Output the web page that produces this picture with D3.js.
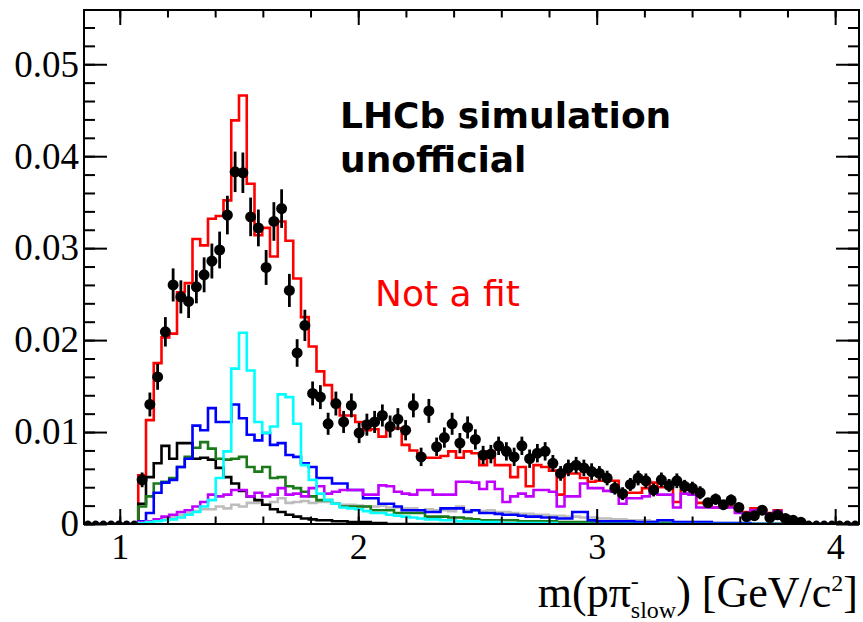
<!DOCTYPE html>
<html>
<head>
<meta charset="utf-8">
<script src="https://cdn.jsdelivr.net/npm/d3@7"></script>
<style>
  body { margin: 0; background: #fff; }
  svg { display: block; }
</style>
</head>
<body>
<script>
// histogram binning: 100 bins on [0.85, 4.1]
const xLow = 0.85, xHigh = 4.1, nBins = 100;

// pseudo-data points and their errors (one per bin)
const dataPoints = [0,0,0,0,0,0,0,
  0.0048,0.0130,0.0160,0.0209,0.0260,0.0247,0.0242,0.0258,0.0271,0.0286,
  0.0298,0.0336,0.0383,0.0382,0.0334,0.0322,0.0279,0.0329,0.0343,0.0254,
  0.0186,0.0216,0.0142,0.0138,0.0109,0.0131,0.0111,0.0129,0.0099,0.0108,
  0.0111,0.0118,0.0106,0.0114,0.0102,0.0129,0.0073,0.0123,0.0084,0.0094,
  0.0109,0.0088,0.0105,0.0092,0.0075,0.0076,0.0085,0.0079,0.0073,0.0085,
  0.0071,0.0077,0.0079,0.0066,0.0055,0.0061,0.0064,0.0061,0.0057,0.0055,
  0.0050,0.0039,0.0033,0.0043,0.0050,0.0047,0.0037,0.0048,0.0042,0.0047,
  0.0041,0.0039,0.0034,0.0023,0.0027,0.0021,0.0026,0.0018,0.0008,0.0009,
  0.0015,0.0007,0.0010,0.0006,0.0004,0.0002,
  0,0,0,0,0,0,0];
const dataErrors = [0,0,0,0,0,0,0,
  0.0008,0.0013,0.0014,0.0016,0.0018,0.0018,0.0018,0.0018,0.0019,0.0019,
  0.0020,0.0021,0.0022,0.0022,0.0021,0.0020,0.0019,0.0021,0.0021,0.0018,
  0.0015,0.0017,0.0013,0.0013,0.0012,0.0013,0.0012,0.0013,0.0011,0.0012,
  0.0012,0.0012,0.0012,0.0012,0.0011,0.0013,0.0010,0.0013,0.0010,0.0011,
  0.0012,0.0011,0.0012,0.0011,0.0010,0.0010,0.0010,0.0010,0.0010,0.0010,
  0.0010,0.0010,0.0010,0.0009,0.0008,0.0009,0.0009,0.0009,0.0009,0.0008,
  0.0008,0.0007,0.0007,0.0007,0.0008,0.0008,0.0007,0.0008,0.0007,0.0008,
  0.0007,0.0007,0.0007,0.0005,0.0006,0.0005,0.0006,0.0005,0.0003,0.0003,
  0.0004,0.0003,0.0004,0.0003,0.0002,0.0002,
  0,0,0,0,0,0,0];

// simulated components
const totalMC = [0,0,0,0,0,0,0,
  0.0053,0.0113,0.0175,0.0203,0.0207,0.0252,0.0262,0.0310,0.0303,0.0332,
  0.0335,0.0352,0.0439,0.0466,0.0370,0.0314,0.0322,0.0291,0.0329,0.0308,
  0.0267,0.0225,0.0193,0.0166,0.0151,0.0131,0.0118,0.0118,0.0111,0.0102,
  0.0103,0.0095,0.0104,0.0104,0.0086,0.0080,0.0073,0.0072,0.0072,0.0074,
  0.0079,0.0072,0.0079,0.0077,0.0064,0.0079,0.0064,0.0064,0.0051,0.0062,
  0.0041,0.0064,0.0062,0.0058,0.0032,0.0055,0.0055,0.0050,0.0046,0.0047,
  0.0048,0.0047,0.0031,0.0034,0.0034,0.0039,0.0045,0.0040,0.0040,0.0024,
  0.0037,0.0037,0.0023,0.0022,0.0018,0.0018,0.0019,0.0013,0.0013,0.0017,
  0.0016,0.0012,0.0015,0.0008,0.0005,0.0003,
  0,0,0,0,0,0,0];
const cyanMC = [0,0,0,0,0,0,0,
  0.0001,0.0002,0.0003,0.0004,0.0005,0.0007,0.0010,0.0013,0.0019,0.0026,
  0.0050,0.0079,0.0169,0.0208,0.0167,0.0111,0.0099,0.0106,0.0141,0.0138,
  0.0109,0.0064,0.0048,0.0033,0.0026,0.0022,0.0018,0.0017,0.0016,0.0014,
  0.0012,0.0012,0.0010,0.0009,0.0008,0.0007,0.0006,0.0005,0.0005,0.0004,
  0.0004,0.0003,0.0003,0.0003,0.0002,0.0002,0.0002,0.0001,0.0001,0.0001,
  0.0001,0.0001,0.0001,0.0001,0,0,0,0,0,0,
  0,0,0,0,0,0,0,0,0,0,
  0,0,0,0,0,0,0,0,0,0,
  0,0,0,0,0,0,
  0,0,0,0,0,0,0];
const blueMC = [0,0,0,0,0,0,0,
  0.0003,0.0012,0.0034,0.0045,0.0048,0.0062,0.0071,0.0107,0.0102,0.0126,
  0.0111,0.0111,0.0130,0.0115,0.0097,0.0091,0.0099,0.0086,0.0088,0.0075,
  0.0073,0.0066,0.0062,0.0050,0.0050,0.0044,0.0044,0.0037,0.0037,0.0028,
  0.0028,0.0022,0.0022,0.0019,0.0015,0.0015,0.0015,0.0013,0.0013,0.0017,
  0.0017,0.0017,0.0013,0.0015,0.0012,0.0012,0.0011,0.0010,0.0010,0.0009,
  0.0008,0.0008,0.0007,0.0007,0.0006,0.0006,0.0013,0.0013,0.0004,0.0003,
  0.0003,0.0003,0.0003,0.0003,0.0002,0.0002,0.0002,0.0004,0.0004,0.0002,
  0.0002,0.0002,0.0002,0.0002,0.0001,0.0001,0.0001,0.0001,0.0001,0,
  0,0,0,0,0,0,
  0,0,0,0,0,0,0];
const greenMC = [0,0,0,0,0,0,0,
  0.0019,0.0030,0.0044,0.0046,0.0050,0.0062,0.0073,0.0083,0.0089,0.0082,
  0.0071,0.0070,0.0071,0.0073,0.0062,0.0057,0.0062,0.0050,0.0051,0.0041,
  0.0039,0.0035,0.0030,0.0026,0.0026,0.0022,0.0019,0.0019,0.0019,0.0019,
  0.0015,0.0015,0.0015,0.0012,0.0012,0.0012,0.0012,0.0008,0.0008,0.0008,
  0.0007,0.0007,0.0006,0.0005,0.0004,0.0004,0.0004,0.0004,0.0004,0.0003,
  0.0003,0.0003,0.0003,0.0003,0.0002,0.0002,0.0002,0.0002,0.0002,0.0002,
  0.0002,0.0002,0.0002,0.0002,0.0001,0.0001,0.0001,0.0001,0.0001,0.0001,
  0.0001,0.0001,0.0001,0.0001,0,0,0,0,0,0,
  0,0,0,0,0,0,
  0,0,0,0,0,0,0];
const blackMC = [0,0,0,0,0,0,0,
  0.0022,0.0051,0.0066,0.0085,0.0071,0.0088,0.0088,0.0071,0.0072,0.0070,
  0.0061,0.0051,0.0044,0.0036,0.0030,0.0026,0.0021,0.0016,0.0013,0.0010,
  0.0008,0.0006,0.0005,0.0004,0.0004,0.0003,0.0003,0.0002,0.0002,0.0002,
  0.0001,0.0001,0,0,0,0,0,0,0,0,
  0,0,0,0,0,0,0,0,0,0,
  0,0,0,0,0,0,0,0,0,0,
  0,0,0,0,0,0,0,0,0,0,
  0,0,0,0,0,0,0,0,0,0,
  0,0,0,0,0,0,
  0,0,0,0,0,0,0];
const magentaMC = [0,0,0,0,0,0,0,
  0.0002,0.0003,0.0005,0.0008,0.0010,0.0013,0.0015,0.0019,0.0024,0.0032,
  0.0030,0.0032,0.0037,0.0037,0.0030,0.0034,0.0030,0.0032,0.0039,0.0032,
  0.0033,0.0030,0.0039,0.0041,0.0033,0.0035,0.0037,0.0037,0.0037,0.0032,
  0.0032,0.0042,0.0041,0.0035,0.0033,0.0032,0.0037,0.0037,0.0032,0.0032,
  0.0032,0.0046,0.0046,0.0045,0.0038,0.0046,0.0038,0.0024,0.0030,0.0033,
  0.0030,0.0037,0.0037,0.0035,0.0019,0.0030,0.0030,0.0044,0.0039,0.0039,
  0.0036,0.0035,0.0022,0.0028,0.0028,0.0030,0.0039,0.0032,0.0032,0.0018,
  0.0033,0.0032,0.0018,0.0018,0.0018,0.0018,0.0018,0.0012,0.0012,0.0015,
  0.0015,0.0011,0.0014,0.0008,0.0005,0.0003,
  0,0,0,0,0,0,0];
const grayMC = [0,0,0,0,0,0,0,
  0.0001,0.0003,0.0005,0.0006,0.0008,0.0010,0.0012,0.0014,0.0016,0.0016,
  0.0019,0.0017,0.0021,0.0019,0.0023,0.0023,0.0021,0.0024,0.0028,0.0023,
  0.0024,0.0025,0.0023,0.0024,0.0024,0.0022,0.0021,0.0021,0.0020,0.0019,
  0.0019,0.0020,0.0018,0.0018,0.0017,0.0017,0.0015,0.0016,0.0015,0.0015,
  0.0014,0.0019,0.0015,0.0015,0.0014,0.0015,0.0013,0.0013,0.0012,0.0011,
  0.0011,0.0010,0.0010,0.0009,0.0009,0.0008,0.0008,0.0007,0.0007,0.0006,
  0.0006,0.0005,0.0005,0.0004,0.0004,0.0004,0.0003,0.0003,0.0003,0.0002,
  0.0002,0.0002,0.0002,0.0002,0.0001,0.0001,0.0001,0.0001,0.0001,0,
  0,0,0,0,0,0,
  0,0,0,0,0,0,0];

const yMajor = [0, 0.01, 0.02, 0.03, 0.04, 0.05];
const xMajor = [1, 2, 3, 4];

const W = 863, H = 622;
const frame = {left: 84, right: 859, top: 10, bottom: 524};

const svg = d3.select("body").append("svg").attr("width", W).attr("height", H);
svg.append("rect").attr("width", W).attr("height", H).attr("fill", "#fff");

const x = d3.scaleLinear().domain([xLow, xHigh]).range([frame.left, frame.right]);
const y = d3.scaleLinear().domain([0, 0.0559]).range([frame.bottom, frame.top]);

const binW = (xHigh - xLow) / nBins;
const edges = d3.range(nBins + 1).map(i => xLow + i * binW);
const centers = d3.range(nBins).map(i => xLow + (i + 0.5) * binW);

svg.append("clipPath").attr("id", "frameClip")
  .append("rect")
  .attr("x", frame.left).attr("y", frame.top)
  .attr("width", frame.right - frame.left).attr("height", frame.bottom - frame.top);

const plot = svg.append("g").attr("clip-path", "url(#frameClip)");

// step histograms
const step = d3.line()
  .x(d => x(d[0]))
  .y(d => y(d[1]))
  .curve(d3.curveStepAfter);

const histos = [
  {values: totalMC, color: "#ff0000"},
  {values: grayMC, color: "#bdbdbd"},
  {values: blackMC, color: "#000000"},
  {values: greenMC, color: "#1a7a1a"},
  {values: blueMC, color: "#0000ff"},
  {values: magentaMC, color: "#c000ff"},
  {values: cyanMC, color: "#00ffff"}
];

histos.forEach(h => {
  let pts = h.values.map((v, i) => [edges[i], v]);
  pts.push([xHigh, h.values[nBins - 1]]);
  plot.append("path")
    .attr("d", step(pts))
    .attr("fill", "none")
    .attr("stroke", h.color)
    .attr("stroke-width", 2.6);
});

// data points with errors
const pts = dataPoints.map((v, i) => ({x: centers[i], v: v, e: dataErrors[i]}));
plot.selectAll("line.err").data(pts.filter(d => d.e > 0))
  .join("line")
  .attr("class", "err")
  .attr("x1", d => x(d.x)).attr("x2", d => x(d.x))
  .attr("y1", d => y(d.v - d.e)).attr("y2", d => y(d.v + d.e))
  .attr("stroke", "#000").attr("stroke-width", 2.8);
plot.selectAll("circle.pt").data(pts)
  .join("circle")
  .attr("class", "pt")
  .attr("cx", d => x(d.x)).attr("cy", d => y(d.v))
  .attr("r", d => d.v > 0 ? 5.5 : 3.5)
  .attr("fill", "#000");

// axes, ticks inside the frame on all four sides
const fmt = d => d === 0 ? "0" : d3.format(".2f")(d);
const yMinor = d3.range(0, 0.0559, 0.002);
const xMinor = d3.range(1, 4.01, 0.2);

function styleAxis(g, size) {
  g.select(".domain").remove();
  g.selectAll("line").attr("stroke", "#000").attr("stroke-width", 2);
  g.selectAll("text").attr("font-family", "Liberation Serif").attr("font-size", size || 37).attr("fill", "#000");
}

svg.append("g").attr("transform", `translate(${frame.left},0)`)
  .call(d3.axisLeft(y).tickValues(yMinor).tickSize(-11).tickFormat(""))
  .call(styleAxis);
svg.append("g").attr("transform", `translate(${frame.left},0)`)
  .call(d3.axisLeft(y).tickValues(yMajor).tickSize(-23).tickPadding(5).tickFormat(fmt))
  .call(styleAxis);
svg.append("g").attr("transform", `translate(${frame.right},0)`)
  .call(d3.axisRight(y).tickValues(yMinor).tickSize(-11).tickFormat(""))
  .call(styleAxis);
svg.append("g").attr("transform", `translate(${frame.right},0)`)
  .call(d3.axisRight(y).tickValues(yMajor).tickSize(-23).tickFormat(""))
  .call(styleAxis);

svg.append("g").attr("transform", `translate(0,${frame.bottom})`)
  .call(d3.axisBottom(x).tickValues(xMinor).tickSize(-7.5).tickFormat(""))
  .call(styleAxis);
svg.append("g").attr("transform", `translate(0,${frame.bottom})`)
  .call(d3.axisBottom(x).tickValues(xMajor).tickSize(-15).tickPadding(9).tickFormat(d3.format("d")))
  .call(g => styleAxis(g, 36));
svg.append("g").attr("transform", `translate(0,${frame.top})`)
  .call(d3.axisTop(x).tickValues(xMinor).tickSize(-7.5).tickFormat(""))
  .call(styleAxis);
svg.append("g").attr("transform", `translate(0,${frame.top})`)
  .call(d3.axisTop(x).tickValues(xMajor).tickSize(-15).tickFormat(""))
  .call(styleAxis);

// frame
svg.append("rect")
  .attr("x", frame.left).attr("y", frame.top)
  .attr("width", frame.right - frame.left).attr("height", frame.bottom - frame.top)
  .attr("fill", "none").attr("stroke", "#000").attr("stroke-width", 2);

// axis title
const title = svg.append("text")
  .attr("x", 858).attr("y", 607)
  .attr("text-anchor", "end")
  .attr("font-family", "Liberation Serif")
  .attr("font-size", 44)
  .attr("fill", "#000");
title.append("tspan").text("m(pπ");
title.append("tspan").attr("font-size", 24).attr("dy", -18).text("-");
title.append("tspan").attr("font-size", 24).attr("dx", -8).attr("dy", 29).text("slow");
title.append("tspan").attr("dy", -11).text(") [GeV/c");
title.append("tspan").attr("font-size", 24).attr("dy", -16).text("2");
title.append("tspan").attr("dy", 16).text("]");

// labels
svg.append("text").attr("x", 340).attr("y", 128)
  .attr("font-family", "DejaVu Sans").attr("font-weight", "bold").attr("font-size", 36)
  .text("LHCb simulation");
svg.append("text").attr("x", 340).attr("y", 172)
  .attr("font-family", "DejaVu Sans").attr("font-weight", "bold").attr("font-size", 36)
  .text("unofficial");
svg.append("text").attr("x", 375).attr("y", 306)
  .attr("font-family", "DejaVu Sans").attr("font-size", 36).attr("fill", "#ff0000")
  .text("Not a fit");
</script>
</body>
</html>
